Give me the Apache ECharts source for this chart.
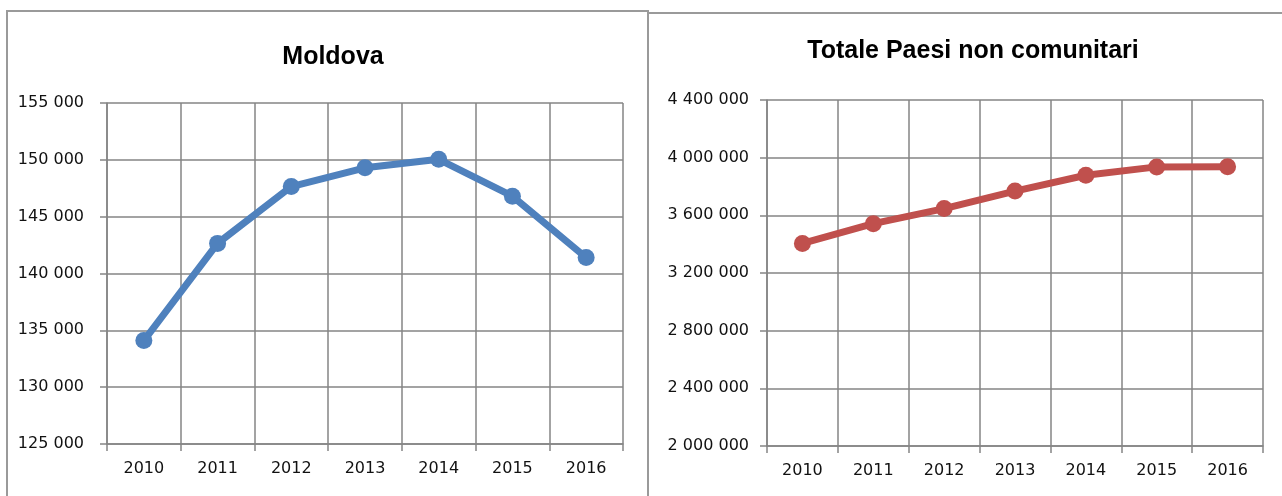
<!DOCTYPE html>
<html>
<head>
<meta charset="utf-8">
<title>Moldova / Totale Paesi non comunitari</title>
<script src="https://cdn.jsdelivr.net/npm/echarts@6.0.0/dist/echarts.min.js"></script>
<style>
    html, body {margin: 0; padding: 0; background: #fff;}
    #chart {width: 1282px; height: 496px;}
</style>
</head>
<body>
<div id="chart"></div>
<script>
// dati
var years = ['2010', '2011', '2012', '2013', '2014', '2015', '2016'];
var moldova = [134100, 142650, 147650, 149300, 150050, 146800, 141400];
var totale = [3405000, 3542000, 3647000, 3768000, 3878000, 3936000, 3937000];
var moldovaAxis = [125000, 155000, 5000];     // min, max, passo
var totaleAxis = [2000000, 4400000, 400000];
var titles = ['Moldova', 'Totale Paesi non comunitari'];

var gridColor = '#858585';
var labelFont = 'DejaVu Sans';

function fmt(v) {//separatore delle migliaia con spazio
    return String(v).replace(/\B(?=(\d{3})+(?!\d))/g, ' ');
}

function xAxis(gridIndex) {
    return {
        type: 'category',
        gridIndex: gridIndex,
        data: years,
        boundaryGap: true,
        axisLine: {lineStyle: {color: gridColor, width: 1.5}},
        axisTick: {show: true, length: 7, lineStyle: {color: gridColor, width: 1.5}},
        splitLine: {show: true, lineStyle: {color: gridColor, width: 1.5}},
        axisLabel: {color: '#111', fontFamily: labelFont, fontSize: 16, margin: 17}
    };
}

function yAxis(gridIndex, range, margin) {
    return {
        type: 'value',
        gridIndex: gridIndex,
        min: range[0],
        max: range[1],
        interval: range[2],
        axisLine: {show: true, lineStyle: {color: gridColor, width: 1.5}},
        axisTick: {show: true, length: 7, lineStyle: {color: gridColor, width: 1.5}},
        splitLine: {show: true, lineStyle: {color: gridColor, width: 1.5}},
        axisLabel: {color: '#111', fontFamily: labelFont, fontSize: 16, margin: margin, formatter: fmt}
    };
}

function lineSeries(index, data, color) {
    return {
        type: 'line',
        xAxisIndex: index,
        yAxisIndex: index,
        data: data,
        symbol: 'circle',
        symbolSize: 17,
        lineStyle: {color: color, width: 7},
        itemStyle: {color: color},
        animation: false
    };
}

var myChart = echarts.init(document.getElementById('chart'));
myChart.setOption({
    animation: false,
    title: [
        {text: titles[0], left: 328, top: 40, textAlign: 'center',
            textStyle: {fontFamily: 'Liberation Sans', fontWeight: 'bold', fontSize: 25, color: '#000'}},
        {text: titles[1], left: 968, top: 34, textAlign: 'center',
            textStyle: {fontFamily: 'Liberation Sans', fontWeight: 'bold', fontSize: 25, color: '#000'}}
    ],
    grid: [
        {left: 107, top: 103, width: 516, height: 341},
        {left: 767, top: 100, width: 496, height: 346}
    ],
    xAxis: [xAxis(0), xAxis(1)],
    yAxis: [yAxis(0, moldovaAxis, 23), yAxis(1, totaleAxis, 18)],
    series: [
        lineSeries(0, moldova, '#4f81bd'),
        lineSeries(1, totale, '#c0504d')
    ],
    // cornici dei due riquadri
    graphic: [
        {type: 'rect', shape: {x: 7, y: 11, width: 641, height: 500},
            style: {fill: 'none', stroke: '#9a9a9a', lineWidth: 2}, silent: true},
        {type: 'polyline', shape: {points: [[648, 500], [648, 13], [1290, 13]]},
            style: {fill: 'none', stroke: '#9a9a9a', lineWidth: 2}, silent: true}
    ]
});
</script>
</body>
</html>
